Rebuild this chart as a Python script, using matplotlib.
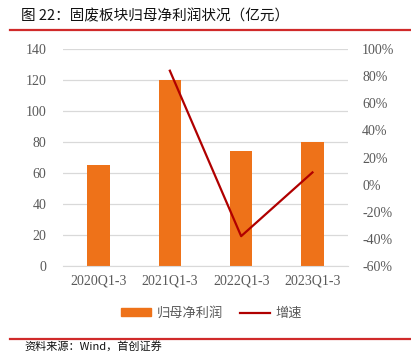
import matplotlib
matplotlib.use("Agg")
import matplotlib.pyplot as plt
from matplotlib.lines import Line2D
from matplotlib.ticker import FuncFormatter

# data
periods = ["2020Q1-3", "2021Q1-3", "2022Q1-3", "2023Q1-3"]
profit = [65, 120, 74, 80]          # 归母净利润（亿元）
growth_periods = ["2021Q1-3", "2022Q1-3", "2023Q1-3"]
growth = [84, -38, 9]               # 增速（%）

ORANGE = "#EE7219"
DARK_RED = "#B00000"
RULE_RED = "#D02A2A"
GRAY_TXT = "#595959"

plt.rcParams["font.family"] = ["Noto Sans CJK SC", "DejaVu Sans"]

fig = plt.figure(figsize=(4.11, 3.52), dpi=100)
ax = fig.add_axes([0.153, 0.2443, 0.694, 0.6165])
ax2 = ax.twinx()

x = list(range(len(periods)))
ax.bar(x, profit, width=0.31, color=ORANGE, zorder=2, label="归母净利润")
gx = [periods.index(p) for p in growth_periods]
ax2.plot(gx, growth, color=DARK_RED, linewidth=1.6, label="增速")

ax.set_xlim(-0.5, 3.5)
ax.set_ylim(0, 140)
ax.set_yticks(range(0, 141, 20))
ax2.set_ylim(-60, 100)
ax2.set_yticks(range(-60, 101, 20))
ax2.yaxis.set_major_formatter(FuncFormatter(lambda v, p: f"{int(v)}%"))

ax.set_xticks(x)
ax.set_xticklabels(periods)
ax.grid(axis="y", color="#D9D9D9", linewidth=0.9, zorder=0)
ax.set_axisbelow(True)

for a in (ax, ax2):
    for s in ("top", "left", "right"):
        a.spines[s].set_visible(False)
    a.spines["bottom"].set_color("#D9D9D9")
    a.tick_params(length=0, labelsize=10, labelcolor=GRAY_TXT)
    for lbl in a.get_xticklabels() + a.get_yticklabels():
        lbl.set_family("Liberation Serif")
ax2.spines["bottom"].set_visible(False)
ax.tick_params(axis="y", pad=12)
ax.tick_params(axis="x", pad=6)
ax2.tick_params(axis="y", pad=10)

handles = [plt.Rectangle((0, 0), 1, 1, color=ORANGE),
           Line2D([0], [0], color=DARK_RED, linewidth=1.6)]
leg = fig.legend(handles, ["归母净利润", "增速"], loc="center",
                 bbox_to_anchor=(0.515, 0.11), ncol=2, frameon=False,
                 fontsize=9.5, handlelength=2.3, handleheight=0.5,
                 columnspacing=1.3, handletextpad=0.4)
for t in leg.get_texts():
    t.set_color(GRAY_TXT)

# title and source with red rules
fig.text(0.05, 0.953, "图 22：固废板块归母净利润状况（亿元）", fontsize=10.5,
         color="#111111", va="center", ha="left")
fig.add_artist(Line2D([0.025, 0.998], [0.915, 0.915], color=RULE_RED, linewidth=1.6))
fig.add_artist(Line2D([0.025, 0.998], [0.037, 0.037], color=RULE_RED, linewidth=1.6))
fig.text(0.06, 0.001, "资料来源：Wind，首创证券", fontsize=8, style="italic",
         color="#111111", va="bottom", ha="left")

fig.savefig("out.png", dpi=100)
